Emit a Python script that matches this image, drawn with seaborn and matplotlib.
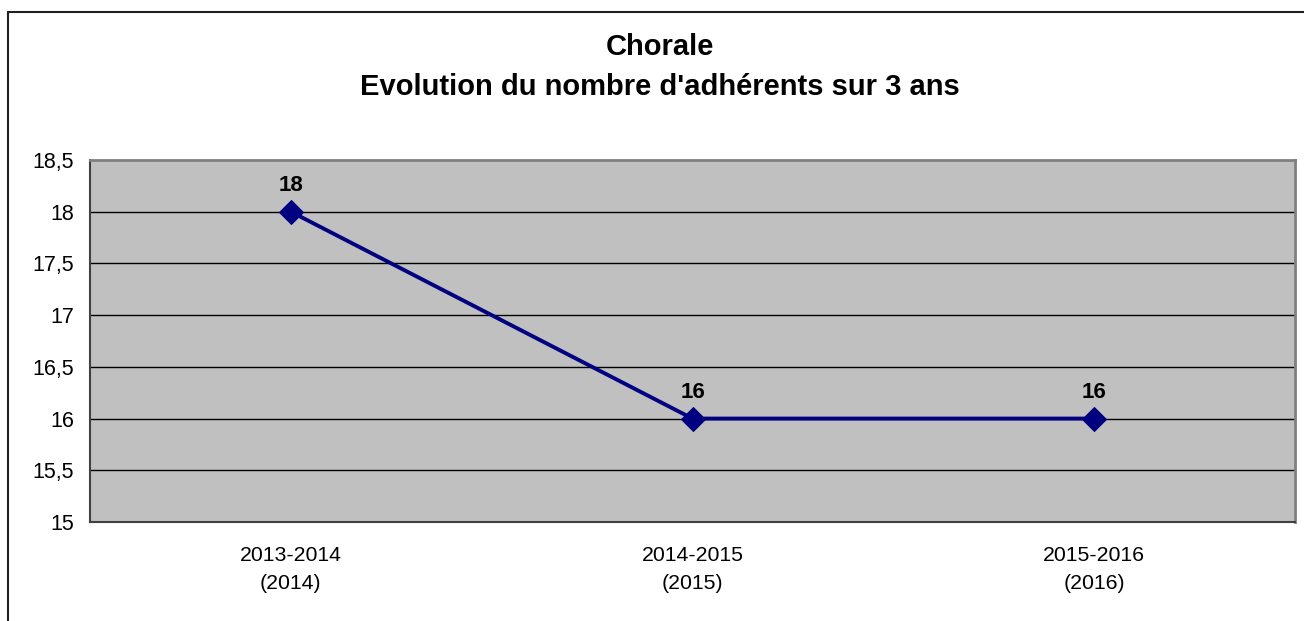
import matplotlib
matplotlib.use('Agg')
import matplotlib.pyplot as plt
from matplotlib.lines import Line2D
from matplotlib.ticker import FixedLocator, FuncFormatter
import pandas as pd
import seaborn as sns

saisons = ['2013-2014\n(2014)', '2014-2015\n(2015)', '2015-2016\n(2016)']
adherents = [18, 16, 16]
titre = 'Chorale'
sous_titre = "Evolution du nombre d'adhérents sur 3 ans"

df = pd.DataFrame({'saison': saisons, 'adherents': adherents})

sns.set_style('white')
plt.rcParams['font.family'] = ['Liberation Sans', 'DejaVu Sans']
plt.rcParams['text.color'] = 'black'
plt.rcParams['xtick.labelcolor'] = 'black'
plt.rcParams['ytick.labelcolor'] = 'black'

fig = plt.figure(figsize=(13.04, 6.21), dpi=100)
ax = fig.add_axes([90 / 1304, 1 - 522 / 621, 1205 / 1304, 362 / 621])
ax.set_facecolor('#C0C0C0')

sns.lineplot(data=df, x='saison', y='adherents', ax=ax, color='#000080',
             linewidth=2.8, marker='D', markersize=12.5, markeredgecolor='#000080',
             sort=False, zorder=5)

for i, v in enumerate(adherents):
    ax.annotate(f'{v}', (i, v), xytext=(0, 19), textcoords='offset points',
                ha='center', va='center', fontsize=16, fontweight='bold', color='black')

# axe Y
ax.set_ylim(15, 18.5)
ax.set_yticks([15, 15.5, 16, 16.5, 17, 17.5, 18, 18.5])
ax.yaxis.set_major_formatter(FuncFormatter(lambda v, p: f'{v:g}'.replace('.', ',')))
for y in [15.5, 16, 16.5, 17, 17.5, 18]:
    ax.axhline(y, color='black', linewidth=1.0, zorder=1)

# axe X : graduations entre categories, etiquettes au centre
ax.set_xlim(-0.5, len(saisons) - 0.5)
ax.xaxis.set_major_locator(FixedLocator([-0.5 + k for k in range(len(saisons) + 1)]))
ax.xaxis.set_major_formatter(FuncFormatter(lambda v, p: ''))
ax.xaxis.set_minor_locator(FixedLocator(list(range(len(saisons)))))
ax.set_xticks(range(len(saisons)), saisons, minor=True)
for lbl in ax.get_xticklabels(minor=True):
    lbl.set_linespacing(1.6)

ax.tick_params(axis='y', which='major', direction='out', length=4.5, width=1,
               color='#404040', pad=7, labelsize=15.5)
ax.tick_params(axis='x', which='major', direction='out', length=4.5, width=1,
               color='#404040')
ax.tick_params(axis='x', which='minor', length=0, pad=17, labelsize=15.3)
ax.set_xlabel('')
ax.set_ylabel('')

for s in ['left', 'bottom']:
    ax.spines[s].set_color('#404040')
    ax.spines[s].set_linewidth(1.5)
for s in ['top', 'right']:
    ax.spines[s].set_color('#808080')
    ax.spines[s].set_linewidth(2)

fig.text(660 / 1304, 1 - 47 / 621, titre, ha='center', va='center',
         fontsize=21, fontweight='bold')
fig.text(660 / 1304, 1 - 87 / 621, sous_titre, ha='center', va='center',
         fontsize=21, fontweight='bold')

# cadre exterieur (coupe a droite et en bas)
fig.add_artist(Line2D([8 / 1304, 8 / 1304], [0, 1 - 12 / 621],
                      transform=fig.transFigure, color='#202020', linewidth=1.5))
fig.add_artist(Line2D([8 / 1304, 1], [1 - 12 / 621, 1 - 12 / 621],
                      transform=fig.transFigure, color='#202020', linewidth=1.5))

fig.savefig('out.png', dpi=100, facecolor='white')
